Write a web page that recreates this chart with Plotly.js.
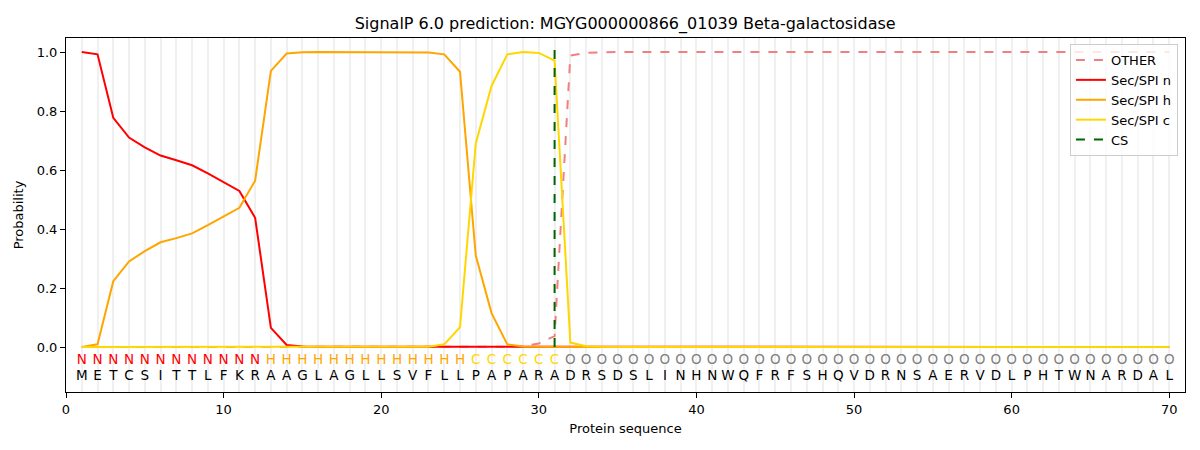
<!DOCTYPE html>
<html>
<head>
<meta charset="utf-8">
<script src="https://cdn.plot.ly/plotly-3.0.1.min.js"></script>
<style>
  body { margin: 0; background: #fff; }
  #chart { width: 1200px; height: 450px; }
</style>
</head>
<body>
<div id="chart"></div>
<script>
// residues and predicted region labels, one per position
const sequence = 'METCSITTLFKRAAGLAGLLSVFLLPAPARADRSDSLINHNWQFRFSHQVDRNSAERVDLPHTWNARDAL'.split('');
const regions = 'NNNNNNNNNNNNHHHHHHHHHHHHHCCCCCCOOOOOOOOOOOOOOOOOOOOOOOOOOOOOOOOOOOOOOO'.split('');
const positions = sequence.map((_, i) => i + 1);

// probabilities, positions 1..70
const other = [0, 0, 0, 0, 0, 0, 0, 0, 0, 0, 0, 0, 0, 0, 0, 0, 0, 0, 0, 0,
  0, 0, 0, 0, 0, 0, 0, 0.001, 0.003, 0.012, 0.037, 0.988, 0.997, 0.999, 1, 1, 1, 1, 1, 1,
  1, 1, 1, 1, 1, 1, 1, 1, 1, 1, 1, 1, 1, 1, 1, 1, 1, 1, 1, 1,
  1, 1, 1, 1, 1, 1, 1, 1, 1, 1];
const secN = [1.0, 0.992, 0.777, 0.71, 0.677, 0.649, 0.633, 0.616, 0.589, 0.56, 0.529, 0.438, 0.065, 0.007, 0.002, 0.001, 0.001, 0.001, 0.001, 0.001,
  0.001, 0.001, 0.001, 0.002, 0.002, 0.002, 0.002, 0.002, 0.002, 0.002, 0.001, 0, 0, 0, 0, 0, 0, 0, 0, 0,
  0, 0, 0, 0, 0, 0, 0, 0, 0, 0, 0, 0, 0, 0, 0, 0, 0, 0, 0, 0,
  0, 0, 0, 0, 0, 0, 0, 0, 0, 0];
const secH = [0, 0.009, 0.223, 0.29, 0.325, 0.355, 0.369, 0.385, 0.413, 0.443, 0.472, 0.564, 0.936, 0.995, 0.999, 1, 1, 1, 1, 1,
  1, 1, 0.998, 0.992, 0.933, 0.31, 0.115, 0.009, 0.002, 0.001, 0, 0, 0, 0, 0, 0, 0, 0, 0, 0,
  0, 0, 0, 0, 0, 0, 0, 0, 0, 0, 0, 0, 0, 0, 0, 0, 0, 0, 0, 0,
  0, 0, 0, 0, 0, 0, 0, 0, 0, 0];
const secC = [0, 0, 0, 0, 0, 0, 0, 0, 0, 0, 0, 0, 0, 0, 0, 0, 0, 0, 0, 0,
  0, 0, 0.001, 0.009, 0.067, 0.69, 0.885, 0.992, 1.0, 0.997, 0.971, 0.015, 0.003, 0.001, 0, 0, 0, 0, 0, 0,
  0, 0, 0, 0, 0, 0, 0, 0, 0, 0, 0, 0, 0, 0, 0, 0, 0, 0, 0, 0,
  0, 0, 0, 0, 0, 0, 0, 0, 0, 0];
const cleavageSite = 31;

const regionColors = { N: '#ff0000', H: '#ffa500', C: '#ffd700', O: '#808080' };
const font = 'DejaVu Sans, sans-serif';

function line(name, y, color, dash) {
  return {
    x: positions, y: y, name: name, type: 'scatter', mode: 'lines',
    line: { color: color, width: 2, dash: dash || 'solid' }
  };
}

let data = [
  line('OTHER', other, '#f08080', 'dash'),
  line('Sec/SPI n', secN, '#ff0000'),
  line('Sec/SPI h', secH, '#ffa500'),
  line('Sec/SPI c', secC, '#ffd700'),
  {
    x: [cleavageSite, cleavageSite], y: [0, 1.035], name: 'CS', type: 'scatter', mode: 'lines',
    line: { color: '#006400', width: 2, dash: 'dash' }
  },
  {
    x: positions, y: positions.map(() => -0.047), text: regions, type: 'scatter', mode: 'text',
    textfont: { family: font, size: 13.5, color: regions.map(r => regionColors[r]) },
    showlegend: false, hoverinfo: 'skip'
  },
  {
    x: positions, y: positions.map(() => -0.1), text: sequence, type: 'scatter', mode: 'text',
    textfont: { family: font, size: 13.5, color: '#000' },
    showlegend: false, hoverinfo: 'skip'
  }
];

let layout = {
  width: 1200, height: 450,
  margin: { l: 66, r: 15, t: 38, b: 58 },
  paper_bgcolor: '#fff', plot_bgcolor: '#fff',
  font: { family: font, size: 13, color: '#000' },
  title: {
    text: 'SignalP 6.0 prediction: MGYG000000866_01039 Beta-galactosidase',
    font: { family: font, size: 16, color: '#000' },
    x: 0.521, xanchor: 'center', y: 0.949, yanchor: 'middle'
  },
  xaxis: {
    range: [0, 71], dtick: 10, tick0: 0,
    ticks: 'outside', ticklen: 5, tickcolor: '#000',
    showline: true, linecolor: '#000', linewidth: 1, mirror: true,
    showgrid: true, gridcolor: '#f0f0f0', gridwidth: 2,
    minor: { dtick: 1, tick0: 0, showgrid: true, gridcolor: '#f0f0f0', gridwidth: 2, ticks: '' },
    zeroline: false,
    title: { text: 'Protein sequence', font: { family: font, size: 13 }, standoff: 8 }
  },
  yaxis: {
    range: [-0.1525, 1.0475], tickvals: [0, 0.2, 0.4, 0.6, 0.8, 1.0], tickformat: '.1f',
    ticks: 'outside', ticklen: 5, tickcolor: '#000',
    showline: true, linecolor: '#000', linewidth: 1, mirror: true,
    showgrid: false, zeroline: false,
    title: { text: 'Probability', font: { family: font, size: 13 }, standoff: 10 }
  },
  legend: {
    x: 0.9937, xanchor: 'right', y: 0.983, yanchor: 'top',
    bgcolor: 'rgba(255,255,255,0.8)', bordercolor: '#cccccc', borderwidth: 1,
    font: { family: font, size: 13 }, tracegroupgap: 0
  },
  showlegend: true
};

Plotly.newPlot('chart', data, layout, { displayModeBar: false, staticPlot: true });
</script>
</body>
</html>
